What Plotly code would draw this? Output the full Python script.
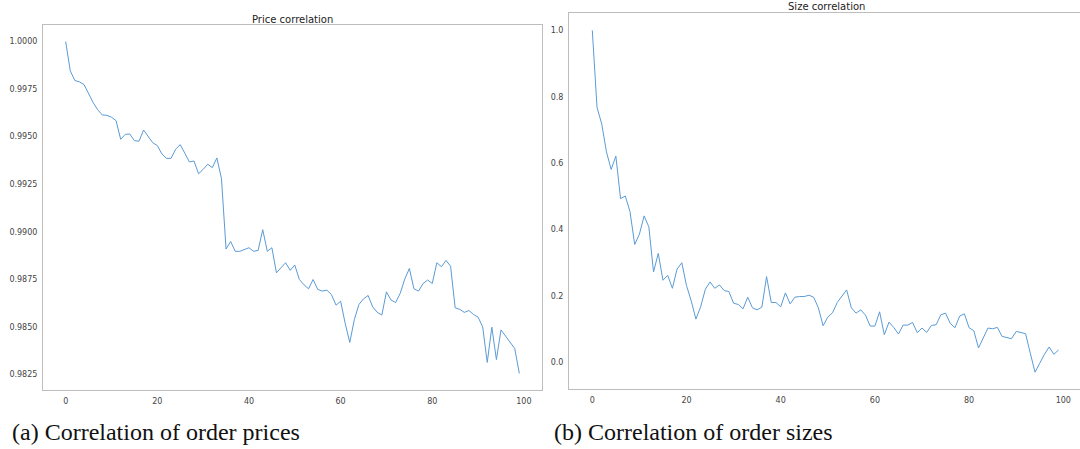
import plotly.graph_objects as go

lag = list(range(100))

price_corr = [
    1.0000, 0.99846, 0.99795, 0.99788, 0.99774, 0.99725, 0.99679, 0.99641, 0.99614, 0.99612,
    0.99602, 0.99584, 0.99486, 0.99512, 0.99514, 0.99479, 0.99476, 0.99535, 0.99500, 0.99468,
    0.99453, 0.99409, 0.99386, 0.99386, 0.99434, 0.99458, 0.99413, 0.99367, 0.99372, 0.99305,
    0.99328, 0.99355, 0.99337, 0.99388, 0.99279, 0.98909, 0.98949, 0.98897, 0.98897, 0.98907,
    0.98916, 0.98897, 0.98902, 0.99011, 0.98897, 0.98916, 0.98784, 0.98811, 0.98837, 0.98797,
    0.98825, 0.98749, 0.98721, 0.98700, 0.98749, 0.98697, 0.98688, 0.98693, 0.98670, 0.98614,
    0.98635, 0.98518, 0.98418, 0.98539, 0.98618, 0.98647, 0.98665, 0.98605, 0.98576, 0.98562,
    0.98684, 0.98641, 0.98628, 0.98676, 0.98751, 0.98807, 0.98700, 0.98688, 0.98728, 0.98746,
    0.98728, 0.98837, 0.98816, 0.98849, 0.98819, 0.98600, 0.98592, 0.98576, 0.98586, 0.98565,
    0.98551, 0.98500, 0.98313, 0.98498, 0.98328, 0.98484, 0.98451, 0.98418, 0.98386, 0.98255,
]

size_corr = [
    1.000, 0.768, 0.718, 0.634, 0.581, 0.621, 0.493, 0.501, 0.454, 0.355,
    0.386, 0.441, 0.408, 0.272, 0.328, 0.247, 0.262, 0.223, 0.281, 0.300,
    0.231, 0.185, 0.130, 0.167, 0.220, 0.242, 0.223, 0.233, 0.216, 0.213,
    0.178, 0.174, 0.161, 0.196, 0.164, 0.158, 0.166, 0.258, 0.180, 0.180,
    0.167, 0.209, 0.176, 0.196, 0.198, 0.198, 0.202, 0.196, 0.164, 0.110,
    0.136, 0.149, 0.180, 0.199, 0.218, 0.164, 0.148, 0.158, 0.142, 0.109,
    0.109, 0.152, 0.083, 0.121, 0.105, 0.085, 0.112, 0.112, 0.120, 0.089,
    0.103, 0.090, 0.111, 0.113, 0.143, 0.148, 0.117, 0.104, 0.139, 0.146,
    0.104, 0.095, 0.043, 0.073, 0.103, 0.101, 0.105, 0.078, 0.074, 0.071,
    0.093, 0.089, 0.086, 0.027, -0.030, -0.003, 0.024, 0.046, 0.024, 0.037,
]

x_ticks = [0, 20, 40, 60, 80, 100]
price_ticks = [0.9825, 0.9850, 0.9875, 0.9900, 0.9925, 0.9950, 0.9975, 1.0000]
size_ticks = [0.0, 0.2, 0.4, 0.6, 0.8, 1.0]

titles = ["Price correlation", "Size correlation"]
captions = ["(a) Correlation of order prices", "(b) Correlation of order sizes"]

W, H = 1080, 449
LINE = "#5b9bd5"
SPINE = "#bdbdbd"
TICKFONT = dict(family="DejaVu Sans", size=8, color="#444444")

def px(v):
    return v / W

def py(v):
    return 1 - v / H

fig = go.Figure()
fig.add_trace(go.Scatter(x=lag, y=price_corr, mode="lines",
                         line=dict(color=LINE, width=1), xaxis="x", yaxis="y",
                         showlegend=False, hoverinfo="x+y"))
fig.add_trace(go.Scatter(x=lag, y=size_corr, mode="lines",
                         line=dict(color=LINE, width=1), xaxis="x2", yaxis="y2",
                         showlegend=False, hoverinfo="x+y"))

axis_common = dict(showgrid=False, zeroline=False, showline=True, linecolor=SPINE,
                   linewidth=1, ticks="", tickfont=TICKFONT)

fig.update_layout(
    width=W, height=H,
    margin=dict(l=0, r=0, t=0, b=0),
    paper_bgcolor="white", plot_bgcolor="white",
    xaxis=dict(domain=[px(43), px(542)], range=[-4.95, 103.95], tickvals=x_ticks,
               mirror=True, anchor="y", ticklabelstandoff=3, **axis_common),
    yaxis=dict(domain=[py(390), py(25)], range=[0.98168, 1.00087], tickvals=price_ticks,
               tickformat=".4f", mirror=True, anchor="x", ticklabelstandoff=3, **axis_common),
    xaxis2=dict(domain=[px(569), 1.0], range=[-4.95, 103.55], tickvals=x_ticks,
                mirror=True, anchor="y2", ticklabelstandoff=3, **axis_common),
    yaxis2=dict(domain=[py(389.3), py(13.3)], range=[-0.0815, 1.0515], tickvals=size_ticks,
                tickformat=".1f", mirror=False, anchor="x2", ticklabelstandoff=3, **axis_common),
)

title_pos = [(292.5, 19), (826, 7)]
for t, (tx, ty) in zip(titles, title_pos):
    fig.add_annotation(text=t, x=px(tx), y=py(ty), xref="paper", yref="paper",
                       xanchor="center", yanchor="middle", showarrow=False,
                       font=dict(family="DejaVu Sans", size=10, color="#222222"))

cap_pos = [(10, 432), (552, 432)]
for c, (cx, cy) in zip(captions, cap_pos):
    fig.add_annotation(text=c, x=px(cx), y=py(cy), xref="paper", yref="paper",
                       xanchor="left", yanchor="middle", showarrow=False,
                       font=dict(family="Liberation Serif", size=24, color="#111111"))

fig.write_html("out.html")
